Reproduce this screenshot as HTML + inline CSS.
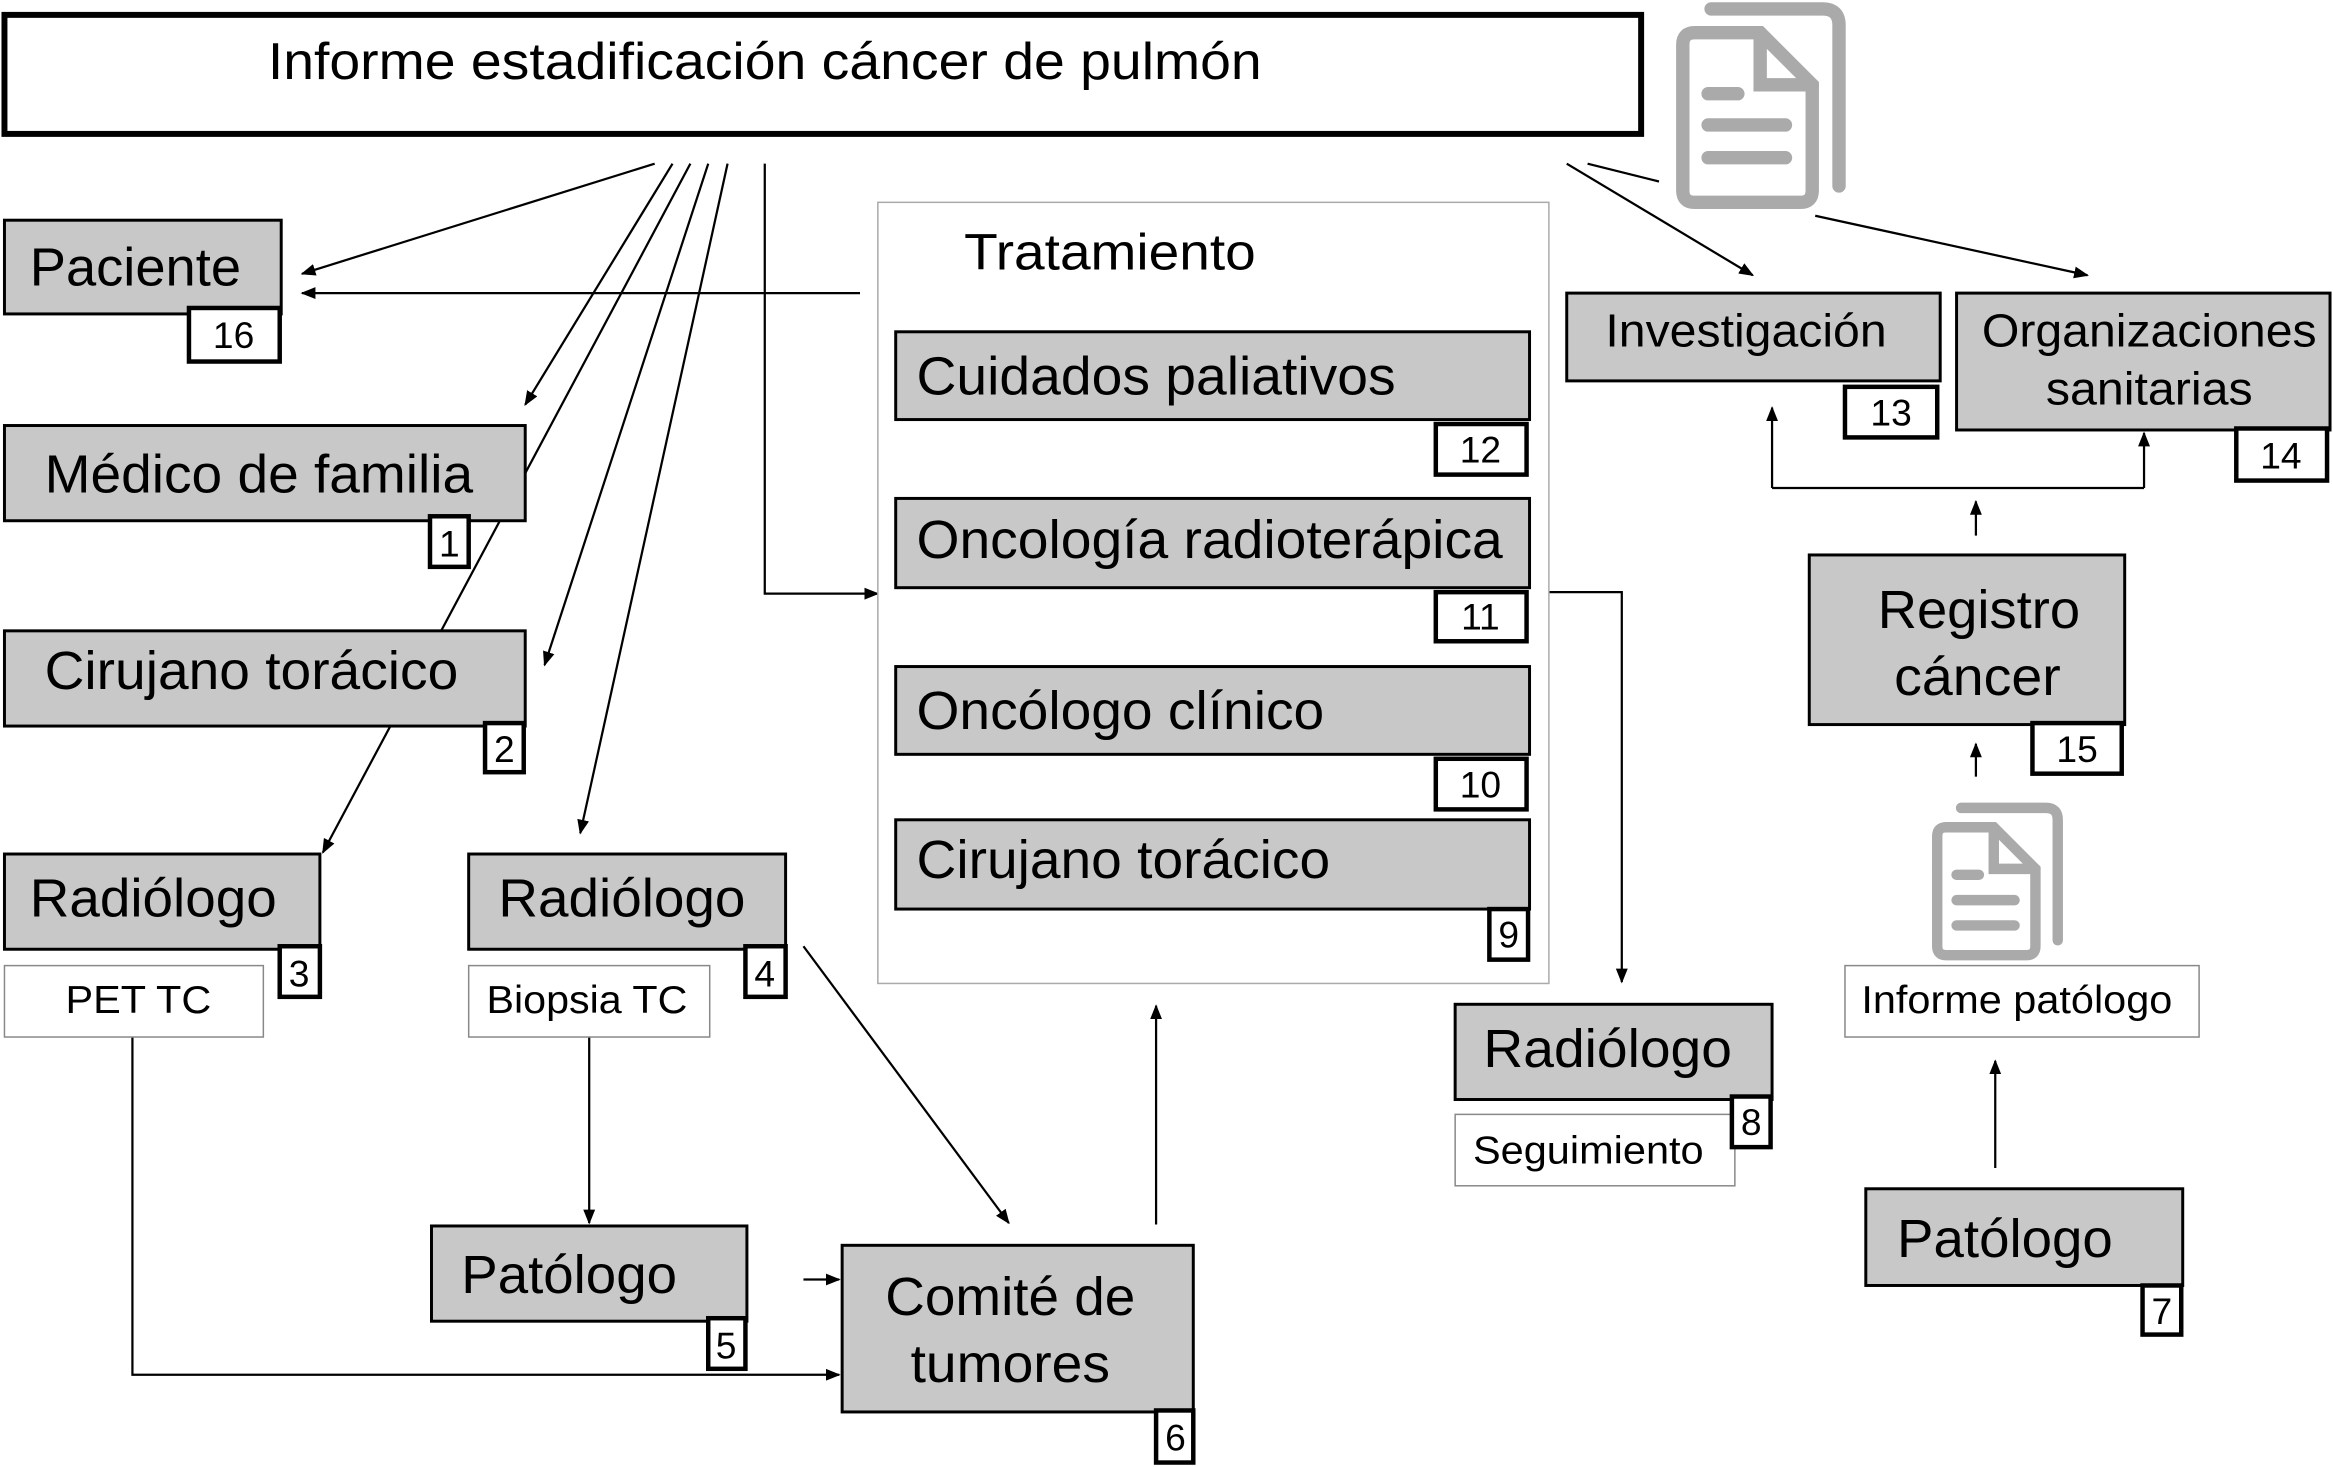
<!DOCTYPE html>
<html><head><meta charset="utf-8"><style>
html,body{margin:0;padding:0;background:#fff;}
svg{display:block;}
text{font-family:"Liberation Sans",sans-serif;fill:#000;}
</style></head><body>
<svg width="2333" height="1467" viewBox="0 0 1568 986" preserveAspectRatio="none" xmlns="http://www.w3.org/2000/svg">
<defs>
<marker id="a" markerWidth="10" markerHeight="10" refX="9" refY="5" orient="auto" markerUnits="userSpaceOnUse">
<path d="M0,1 L10,5 L0,9 Z" fill="#000"/></marker>
</defs>
<g stroke="#000" stroke-width="1.5" fill="none">
<line x1="440" y1="110" x2="203" y2="184" marker-end="url(#a)"/>
<line x1="578" y1="197" x2="203" y2="197" marker-end="url(#a)"/>
<line x1="452" y1="110" x2="353" y2="272" marker-end="url(#a)"/>
<line x1="464" y1="110" x2="217" y2="573" marker-end="url(#a)"/>
<line x1="476" y1="110" x2="366" y2="447" marker-end="url(#a)"/>
<line x1="489" y1="110" x2="390" y2="560" marker-end="url(#a)"/>
<polyline points="514,110 514,399 590,399" marker-end="url(#a)"/>
<line x1="1053" y1="110" x2="1178" y2="185" marker-end="url(#a)"/>
<line x1="1067" y1="110" x2="1115" y2="122"/>
<line x1="1220" y1="145" x2="1403" y2="185" marker-end="url(#a)"/>
<polyline points="1041,398 1090,398 1090,660" marker-end="url(#a)"/>
<polyline points="1191,328 1191,274" marker-end="url(#a)"/>
<line x1="1191" y1="328" x2="1441" y2="328"/>
<polyline points="1441,328 1441,291" marker-end="url(#a)"/>
<line x1="1328" y1="360" x2="1328" y2="337" marker-end="url(#a)"/>
<line x1="1328" y1="522" x2="1328" y2="500" marker-end="url(#a)"/>
<line x1="1341" y1="785" x2="1341" y2="713" marker-end="url(#a)"/>
<line x1="396" y1="697" x2="396" y2="822" marker-end="url(#a)"/>
<line x1="540" y1="636" x2="678" y2="822" marker-end="url(#a)"/>
<line x1="540" y1="860" x2="564" y2="860" marker-end="url(#a)"/>
<polyline points="89,697 89,924 564,924" marker-end="url(#a)"/>
<line x1="777" y1="823" x2="777" y2="676" marker-end="url(#a)"/>
</g>
<rect x="3" y="10" width="1100" height="80" fill="#fff" stroke="#000" stroke-width="4"/>
<text x="180" y="53" font-size="35" textLength="668" lengthAdjust="spacingAndGlyphs">Informe estadificación cáncer de pulmón</text>
<g fill="none" stroke="#aaa" stroke-width="9" stroke-linecap="round">
<path d="M1150,6 L1225,6 Q1236,6 1236,17 L1236,125"/>
<path d="M1131,30 Q1131,22 1139,22 L1183,22 L1218,57 L1218,128 Q1218,136 1210,136 L1139,136 Q1131,136 1131,128 Z" fill="#fff"/>
<path d="M1183,22 L1183,57 L1218,57"/>
<line x1="1148" y1="63" x2="1168" y2="63"/>
<line x1="1148" y1="84" x2="1200" y2="84"/>
<line x1="1148" y1="106" x2="1200" y2="106"/>
</g>
<g fill="none" stroke="#aaa" stroke-width="7" stroke-linecap="round">
<path d="M1318,543 L1375,543 Q1383,543 1383,551 L1383,632"/>
<path d="M1302,562 Q1302,556 1308,556 L1340,556 L1368,584 L1368,636 Q1368,642 1362,642 L1308,642 Q1302,642 1302,636 Z" fill="#fff"/>
<path d="M1340,556 L1340,584 L1368,584"/>
<line x1="1315" y1="588" x2="1330" y2="588"/>
<line x1="1315" y1="605" x2="1354" y2="605"/>
<line x1="1315" y1="622" x2="1354" y2="622"/>
</g>
<g stroke="#000" stroke-width="2" fill="#c8c8c8">
<rect x="3" y="148" width="186" height="63"/>
<rect x="3" y="286" width="350" height="64"/>
<rect x="3" y="424" width="350" height="64"/>
<rect x="3" y="574" width="212" height="64"/>
<rect x="315" y="574" width="213" height="64"/>
<rect x="290" y="824" width="212" height="64"/>
<rect x="566" y="837" width="236" height="112"/>
<rect x="978" y="675" width="213" height="64"/>
<rect x="1053" y="197" width="251" height="59"/>
<rect x="1315" y="197" width="251" height="92"/>
<rect x="1216" y="373" width="212" height="114"/>
<rect x="1254" y="799" width="213" height="65"/>
</g>
<rect x="590" y="136" width="451" height="525" fill="#fff" stroke="#aaa" stroke-width="1"/>
<g stroke="#000" stroke-width="2" fill="#c8c8c8">
<rect x="602" y="223" width="426" height="59"/>
<rect x="602" y="335" width="426" height="60"/>
<rect x="602" y="448" width="426" height="59"/>
<rect x="602" y="551" width="426" height="60"/>
</g>
<g stroke="#888" stroke-width="1" fill="#fff">
<rect x="3" y="649" width="174" height="48"/>
<rect x="315" y="649" width="162" height="48"/>
<rect x="978" y="749" width="188" height="48"/>
<rect x="1240" y="649" width="238" height="48"/>
</g>
<g stroke="#000" stroke-width="3" fill="#fff">
<rect x="127" y="207" width="61" height="36"/>
<rect x="289" y="347" width="26" height="34"/>
<rect x="326" y="486" width="26" height="33"/>
<rect x="188" y="636" width="27" height="34"/>
<rect x="501" y="636" width="27" height="34"/>
<rect x="476" y="886" width="25" height="34"/>
<rect x="777" y="948" width="25" height="35"/>
<rect x="965" y="285" width="61" height="34"/>
<rect x="965" y="398" width="61" height="33"/>
<rect x="965" y="510" width="61" height="34"/>
<rect x="1001" y="611" width="26" height="34"/>
<rect x="1164" y="737" width="26" height="34"/>
<rect x="1240" y="260" width="62" height="34"/>
<rect x="1503" y="288" width="61" height="35"/>
<rect x="1366" y="486" width="60" height="34"/>
<rect x="1440" y="864" width="26" height="33"/>
</g>
<g font-size="36" lengthAdjust="spacingAndGlyphs">
<text x="20" y="192" textLength="142" lengthAdjust="spacingAndGlyphs">Paciente</text>
<text x="30" y="331" textLength="288" lengthAdjust="spacingAndGlyphs">Médico de familia</text>
<text x="30" y="463" textLength="278" lengthAdjust="spacingAndGlyphs">Cirujano torácico</text>
<text x="20" y="616" textLength="166" lengthAdjust="spacingAndGlyphs">Radiólogo</text>
<text x="335" y="616" textLength="166" lengthAdjust="spacingAndGlyphs">Radiólogo</text>
<text x="310" y="869" textLength="145" lengthAdjust="spacingAndGlyphs">Patólogo</text>
<text x="595" y="884" textLength="168" lengthAdjust="spacingAndGlyphs">Comité de</text>
<text x="612" y="929" textLength="134" lengthAdjust="spacingAndGlyphs">tumores</text>
<text x="648" y="181" font-size="34" textLength="196" lengthAdjust="spacingAndGlyphs">Tratamiento</text>
<text x="616" y="265" textLength="322" lengthAdjust="spacingAndGlyphs">Cuidados paliativos</text>
<text x="616" y="375" textLength="394" lengthAdjust="spacingAndGlyphs">Oncología radioterápica</text>
<text x="616" y="490" textLength="274" lengthAdjust="spacingAndGlyphs">Oncólogo clínico</text>
<text x="616" y="590" textLength="278" lengthAdjust="spacingAndGlyphs">Cirujano torácico</text>
<text x="997" y="717" textLength="167" lengthAdjust="spacingAndGlyphs">Radiólogo</text>
<text x="1262" y="422" textLength="136" lengthAdjust="spacingAndGlyphs">Registro</text>
<text x="1273" y="467" textLength="112" lengthAdjust="spacingAndGlyphs">cáncer</text>
<text x="1275" y="845" textLength="145" lengthAdjust="spacingAndGlyphs">Patólogo</text>
</g>
<g font-size="31">
<text x="1079" y="233" textLength="189" lengthAdjust="spacingAndGlyphs">Investigación</text>
<text x="1332" y="233" textLength="225" lengthAdjust="spacingAndGlyphs">Organizaciones</text>
<text x="1375" y="272" textLength="139" lengthAdjust="spacingAndGlyphs">sanitarias</text>
</g>
<g font-size="26">
<text x="44" y="681" textLength="98" lengthAdjust="spacingAndGlyphs">PET TC</text>
<text x="327" y="681" textLength="135" lengthAdjust="spacingAndGlyphs">Biopsia TC</text>
<text x="990" y="782" textLength="155" lengthAdjust="spacingAndGlyphs">Seguimiento</text>
<text x="1251" y="681" textLength="209" lengthAdjust="spacingAndGlyphs">Informe patólogo</text>
</g>
<g font-size="25" text-anchor="middle">
<text x="157" y="234">16</text>
<text x="302" y="374">1</text>
<text x="339" y="512">2</text>
<text x="201" y="663">3</text>
<text x="514" y="663">4</text>
<text x="488" y="913">5</text>
<text x="790" y="975">6</text>
<text x="995" y="311">12</text>
<text x="995" y="423">11</text>
<text x="995" y="536">10</text>
<text x="1014" y="637">9</text>
<text x="1177" y="763">8</text>
<text x="1271" y="286">13</text>
<text x="1533" y="315">14</text>
<text x="1396" y="512">15</text>
<text x="1453" y="890">7</text>
</g>
</svg>
</body></html>
